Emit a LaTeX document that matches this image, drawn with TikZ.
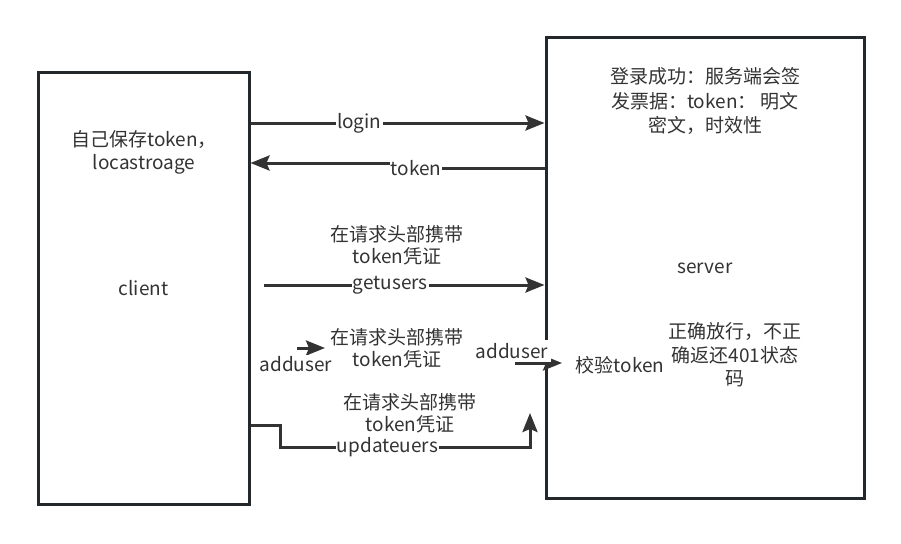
\documentclass[tikz,border=0pt]{standalone}
\usepackage{fontspec}
\setmainfont{Noto Sans CJK SC}
\usetikzlibrary{arrows.meta,positioning}
\definecolor{ink}{HTML}{333333}
\definecolor{frame}{HTML}{23282C}
\tikzset{%
	box/.style  = {draw=frame, line width=3pt, rectangle, text=ink, font=\fontsize{19}{22}\selectfont}, % client / server
	msg/.style  = {draw=ink, line width=3pt, -{Stealth[length=19pt,width=15pt,inset=3pt]}}, % request arrow
	lbl/.style  = {fill=white, text=ink, inner sep=1pt, font=\fontsize{19}{22}\selectfont}, % arrow label
	note/.style = {text=ink, align=center, inner sep=0pt, font=\fontsize{19}{23}\selectfont}, % free text
}

\begin{document}
\begin{tikzpicture}[x=1pt,y=-1pt]
	\useasboundingbox (0,0) rectangle (901,543);
	\node [box, minimum width=211pt, minimum height=432pt] (client) at (143.5,288) {client};
	\node [box, minimum width=318pt, minimum height=460pt] (server) at (705,268) {server};
	
	\node [note] (save) at (144,152) {自己保存token，\\locastroage};
	\node [note, font=\fontsize{19}{24.5}\selectfont] (sign) at (705,101) {登录成功：服务端会签\\发票据：token： 明文\\密文，时效性};
	\node [note, font=\fontsize{19}{22}\selectfont] (hdr1) at (397,245) {在请求头部携带\\token凭证};
	\node [note, font=\fontsize{19}{22}\selectfont] (hdr2) at (397,348) {在请求头部携带\\token凭证};
	\node [note, font=\fontsize{19}{22}\selectfont] (hdr3) at (410,413) {在请求头部携带\\token凭证};
	\node [note] (check) at (620,365) {校验token};
	\node [note, font=\fontsize{19}{23.5}\selectfont] (reply) at (735,355) {正确放行，不正\\确返还401状态\\码};
	
	\draw[msg] (client.east |- 0,123) -- node[lbl,pos=0.37] {login} (server.west |- 0,123);
	\draw[msg] (server.west |- 0,168) -- (416,168) node[lbl] {token} -- (416,163) -- (client.east |- 0,163);
	\draw[msg] (264,285) -- node[lbl,pos=0.45] {getusers} (server.west |- 0,285);
	\draw[msg] (297,348) -- (325,348);
	\node [lbl] (add1) at (296,364) {adduser};
	\draw[msg] (515,363) -- (562,363);
	\node [lbl, inner sep=3pt] (add2) at (512,351) {adduser};
	\draw[msg] (client.east |- 0,425) -- (280,425) -- (280,447) -- node[lbl,pos=0.43] {updateuers} (530,447) -- (530,413);
\end{tikzpicture}
\end{document}
